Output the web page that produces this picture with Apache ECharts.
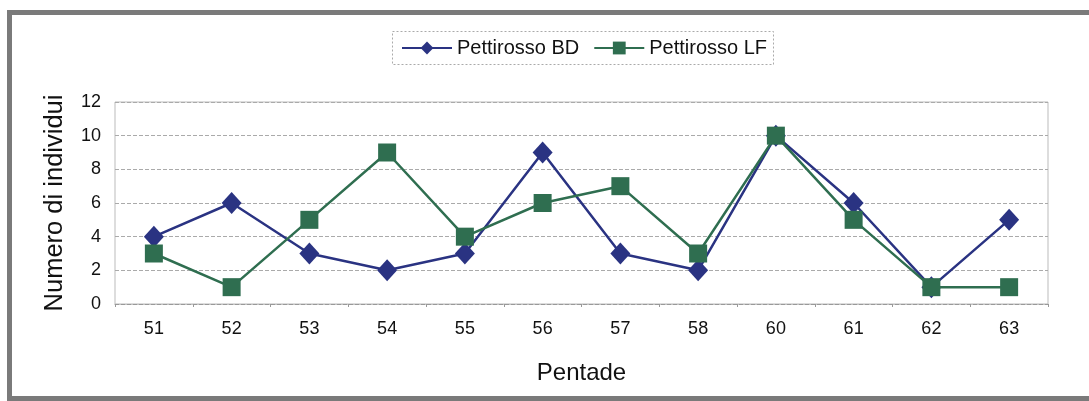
<!DOCTYPE html>
<html><head><meta charset="utf-8">
<script src="https://cdn.jsdelivr.net/npm/echarts@6/dist/echarts.min.js"></script>
<style>html,body{margin:0;padding:0;background:#fff}#c{width:1089px;height:401px}</style>
</head><body><div id="c"></div>
<script>
const categories = ['51','52','53','54','55','56','57','58','60','61','62','63'];
const bdValues = [4,6,3,2,3,9,3,2,10,6,1,5];
const lfValues = [3,1,5,9,4,6,7,3,10,5,1,1];
const seriesNames = ['Pettirosso BD','Pettirosso LF'];

const chart = echarts.init(document.getElementById('c'));
const font = 'Liberation Sans, Arial, sans-serif';
chart.setOption({
  backgroundColor: '#fff',
  animation: false,
  graphic: [{
    type: 'rect', shape: {x: 9.5, y: 12.5, width: 1100, height: 386},
    style: {fill: 'none', stroke: '#7a7a7a', lineWidth: 5}, z: 0
  }, {
    type: 'rect', shape: {x: 392.5, y: 31.5, width: 381, height: 33},
    style: {fill: 'none', stroke: '#aaa', lineWidth: 1, lineDash: [2, 2]}, z: 0
  }],
  legend: {
    top: 33, left: 396, itemWidth: 50, itemHeight: 16, itemGap: 14,
    textStyle: {fontFamily: font, fontSize: 20, color: '#111'},
    data: seriesNames
  },
  grid: {left: 115, right: 41, top: 102, bottom: 97, show: true, borderColor: '#bbb', borderWidth: 1},
  xAxis: {
    type: 'category', data: categories, boundaryGap: true,
    name: 'Pentade', nameLocation: 'middle', nameGap: 57,
    nameTextStyle: {fontFamily: font, fontSize: 24, color: '#111'},
    axisLine: {lineStyle: {color: '#999', type: 'dashed'}},
    axisTick: {show: true, length: 3, lineStyle: {color: '#999'}},
    axisLabel: {fontFamily: font, fontSize: 18, color: '#111', margin: 16}
  },
  yAxis: {
    type: 'value', min: 0, max: 12, interval: 2,
    name: 'Numero di individui', nameLocation: 'middle', nameGap: 47,
    nameTextStyle: {fontFamily: font, fontSize: 25.5, color: '#111'},
    axisLine: {show: false}, axisTick: {show: false},
    splitLine: {lineStyle: {color: '#aaa', type: 'dashed', width: 1}},
    axisLabel: {fontFamily: font, fontSize: 18, color: '#111', margin: 14}
  },
  series: [{
    name: seriesNames[0], type: 'line', data: bdValues,
    symbol: 'diamond', symbolSize: [20, 22],
    lineStyle: {color: '#2a3382', width: 2.5},
    itemStyle: {color: '#2a3382'}, z: 3
  }, {
    name: seriesNames[1], type: 'line', data: lfValues,
    symbol: 'rect', symbolSize: 18,
    lineStyle: {color: '#2f6e50', width: 2.5},
    itemStyle: {color: '#2f6e50'}, z: 4
  }]
});
</script></body></html>
